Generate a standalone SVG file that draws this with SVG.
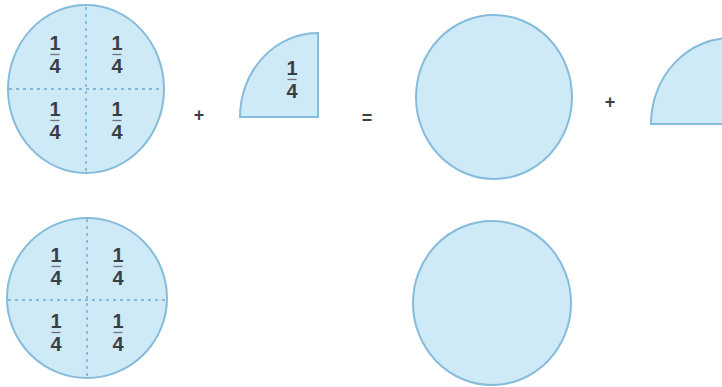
<svg xmlns="http://www.w3.org/2000/svg" width="722" height="387" viewBox="0 0 722 387">
<style>
.shape{fill:#cfeaf7;stroke:#86bcdb;stroke-width:2}
.dash{stroke:#7fb9dc;stroke-width:1.8;stroke-dasharray:3 4;fill:none}
.num{font-family:"Liberation Sans",Arial,sans-serif;font-weight:bold;font-size:20px;fill:#3a3f45;text-anchor:middle}
.bar{stroke:#6f7378;stroke-width:1.3}
.op{font-family:"Liberation Sans",Arial,sans-serif;font-weight:bold;font-size:18px;fill:#3a3f45;text-anchor:middle}
</style>
<defs>
<g id="frac">
<text class="num" x="0" y="0">1</text>
<line class="bar" x1="-4.5" y1="4.5" x2="4.5" y2="4.5"/>
<text class="num" x="0" y="23">4</text>
</g>
</defs>
<rect width="722" height="387" fill="#ffffff"/>
<g id="circle-quarters-top">
<ellipse class="shape" cx="86" cy="89" rx="78" ry="84"/>
<line class="dash" x1="86" y1="7" x2="86" y2="171"/>
<line class="dash" x1="9" y1="89" x2="163" y2="89"/>
<use href="#frac" x="55" y="50"/>
<use href="#frac" x="117" y="50"/>
<use href="#frac" x="55" y="116"/>
<use href="#frac" x="117" y="116"/>
</g>
<g id="plus1"><text class="op" x="199" y="121">+</text></g>
<g id="quarter">
<path class="shape" d="M318,117 L240,117 A78,84 0 0 1 318,33 Z"/>
<use href="#frac" x="292" y="75"/>
</g>
<g id="equals"><text class="op" x="367" y="124">=</text></g>
<g id="circle-top-right">
<ellipse class="shape" cx="494" cy="97" rx="78" ry="82"/>
</g>
<g id="plus2"><text class="op" x="610" y="108">+</text></g>
<g id="half">
<path class="shape" d="M731,124 L651,124 A80,86 0 0 1 811,124 Z"/>
</g>
<g id="circle-quarters-bottom">
<ellipse class="shape" cx="87" cy="298" rx="80" ry="80"/>
<line class="dash" x1="87" y1="219" x2="87" y2="377"/>
<line class="dash" x1="8" y1="300" x2="166" y2="300"/>
<use href="#frac" x="56" y="262"/>
<use href="#frac" x="118" y="262"/>
<use href="#frac" x="56" y="328"/>
<use href="#frac" x="118" y="328"/>
</g>
<g id="circle-bottom-right">
<ellipse class="shape" cx="492" cy="303" rx="79" ry="82"/>
</g>
<g id="connectors"></g>
</svg>
